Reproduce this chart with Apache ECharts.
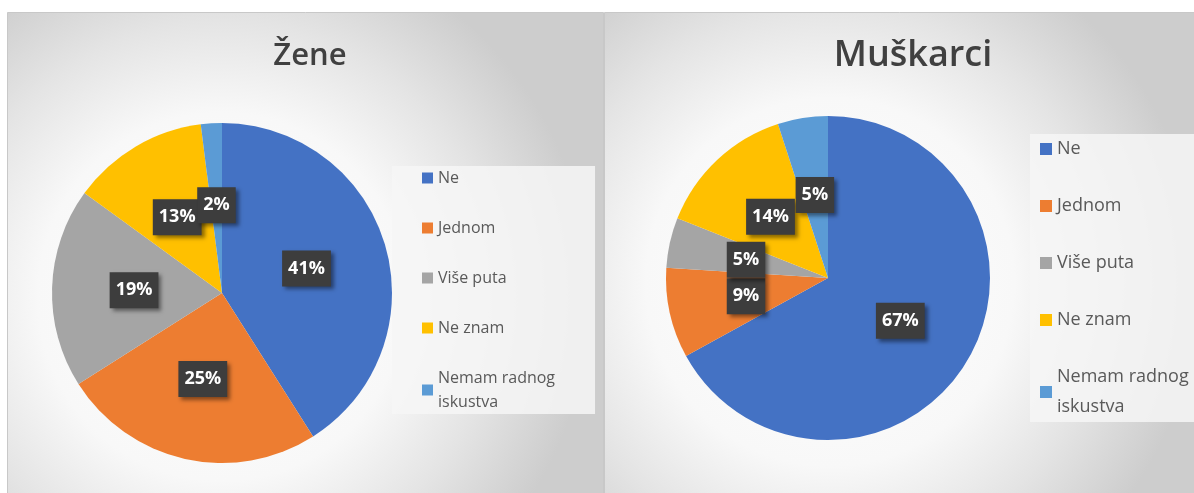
<!DOCTYPE html>
<html>
<head>
<meta charset="utf-8">
<script src="https://cdn.jsdelivr.net/npm/echarts@6/dist/echarts.min.js"></script>
<style>
html,
body,
#main {
  margin: 0;
  padding: 0;
  width: 1194px;
  height: 493px;
  background: #fff;
  overflow: hidden;
}
</style>
</head>
<body>
<div id="main"></div>
<script>
// categories and values
const categories = ["Ne", "Jednom", "Više puta", "Ne znam", "Nemam radnog iskustva"];
const zeneValues = [41, 25, 19, 13, 2];
const muskarciValues = [67, 9, 5, 14, 5];
const chartTitles = ["Žene", "Muškarci"];

const sliceColors = ["#4472c4", "#ed7d31", "#a5a5a5", "#ffc000", "#5b9bd5"];

function toData(values) {
  return categories.map((name, i) => ({ name: name, value: values[i] }));
}

// panel background: light glow around the pie, grey at the edges
function panelFill(cx, cy) {
  return {
    type: "radial",
    x: cx,
    y: cy,
    r: 0.75,
    colorStops: [
      { offset: 0, color: "#ffffff" },
      { offset: 0.5, color: "#f8f8f8" },
      { offset: 0.75, color: "#e4e4e4" },
      { offset: 1, color: "#cdcdcd" },
    ],
  };
}

const labelStyle = {
  show: true,
  position: "inside",
  formatter: "{c}%",
  color: "#fff",
  fontFamily: "Open Sans",
  fontWeight: "bold",
  fontSize: 18,
  lineHeight: 22,
  backgroundColor: "#3d3d3d",
  padding: [7, 6],
  shadowColor: "rgba(0,0,0,0.45)",
  shadowBlur: 4,
  shadowOffsetX: 3,
  shadowOffsetY: 3,
};

function legendName(name) {
  return name === "Nemam radnog iskustva" ? "Nemam radnog\niskustva" : name;
}

const myChart = echarts.init(document.getElementById("main"));
const option = {
  animation: false,
  color: sliceColors,
  graphic: [
    {
      type: "rect",
      silent: true,
      z: -10,
      shape: { x: 7.5, y: 12.5, width: 596, height: 490 },
      style: { fill: panelFill(0.36, 0.58), stroke: "#c8c8c8", lineWidth: 1 },
    },
    {
      type: "rect",
      silent: true,
      z: -10,
      shape: { x: 604.5, y: 12.5, width: 594, height: 490 },
      style: { fill: panelFill(0.38, 0.55), stroke: "#c8c8c8", lineWidth: 1 },
    },
  ],
  title: [
    {
      text: chartTitles[0],
      left: 305,
      top: 36,
      textAlign: "center",
      textStyle: { color: "#404040", fontFamily: "Open Sans", fontWeight: 600, fontSize: 31 },
    },
    {
      text: chartTitles[1],
      left: 908,
      top: 33,
      textAlign: "center",
      textStyle: { color: "#404040", fontFamily: "Open Sans", fontWeight: 600, fontSize: 36 },
    },
  ],
  legend: [
    {
      orient: "vertical",
      left: 392,
      top: 166,
      data: categories,
      icon: "rect",
      itemWidth: 11,
      itemHeight: 11,
      itemGap: 26,
      selectedMode: false,
      backgroundColor: "rgba(246,246,246,0.85)",
      padding: [0, 40, 0, 30],
      formatter: legendName,
      textStyle: { color: "#595959", fontFamily: "Open Sans", fontSize: 16, lineHeight: 24 },
    },
    {
      orient: "vertical",
      left: 1030,
      top: 134,
      data: categories,
      icon: "rect",
      itemWidth: 12,
      itemHeight: 12,
      itemGap: 27,
      selectedMode: false,
      backgroundColor: "rgba(246,246,246,0.85)",
      padding: [0, 10, 0, 10],
      formatter: legendName,
      textStyle: { color: "#595959", fontFamily: "Open Sans", fontSize: 18, lineHeight: 30 },
    },
  ],
  series: [
    {
      name: chartTitles[0],
      type: "pie",
      center: [222, 293],
      radius: 170,
      startAngle: 90,
      silent: true,
      avoidLabelOverlap: false,
      data: toData(zeneValues),
      label: labelStyle,
      labelLine: { show: false },
      labelLayout: { hideOverlap: false },
    },
    {
      name: chartTitles[1],
      type: "pie",
      center: [828, 278],
      radius: 162,
      startAngle: 90,
      silent: true,
      avoidLabelOverlap: false,
      data: toData(muskarciValues),
      label: labelStyle,
      labelLine: { show: false },
      labelLayout: { hideOverlap: false },
    },
  ],
};
myChart.setOption(option);
</script>
</body>
</html>
